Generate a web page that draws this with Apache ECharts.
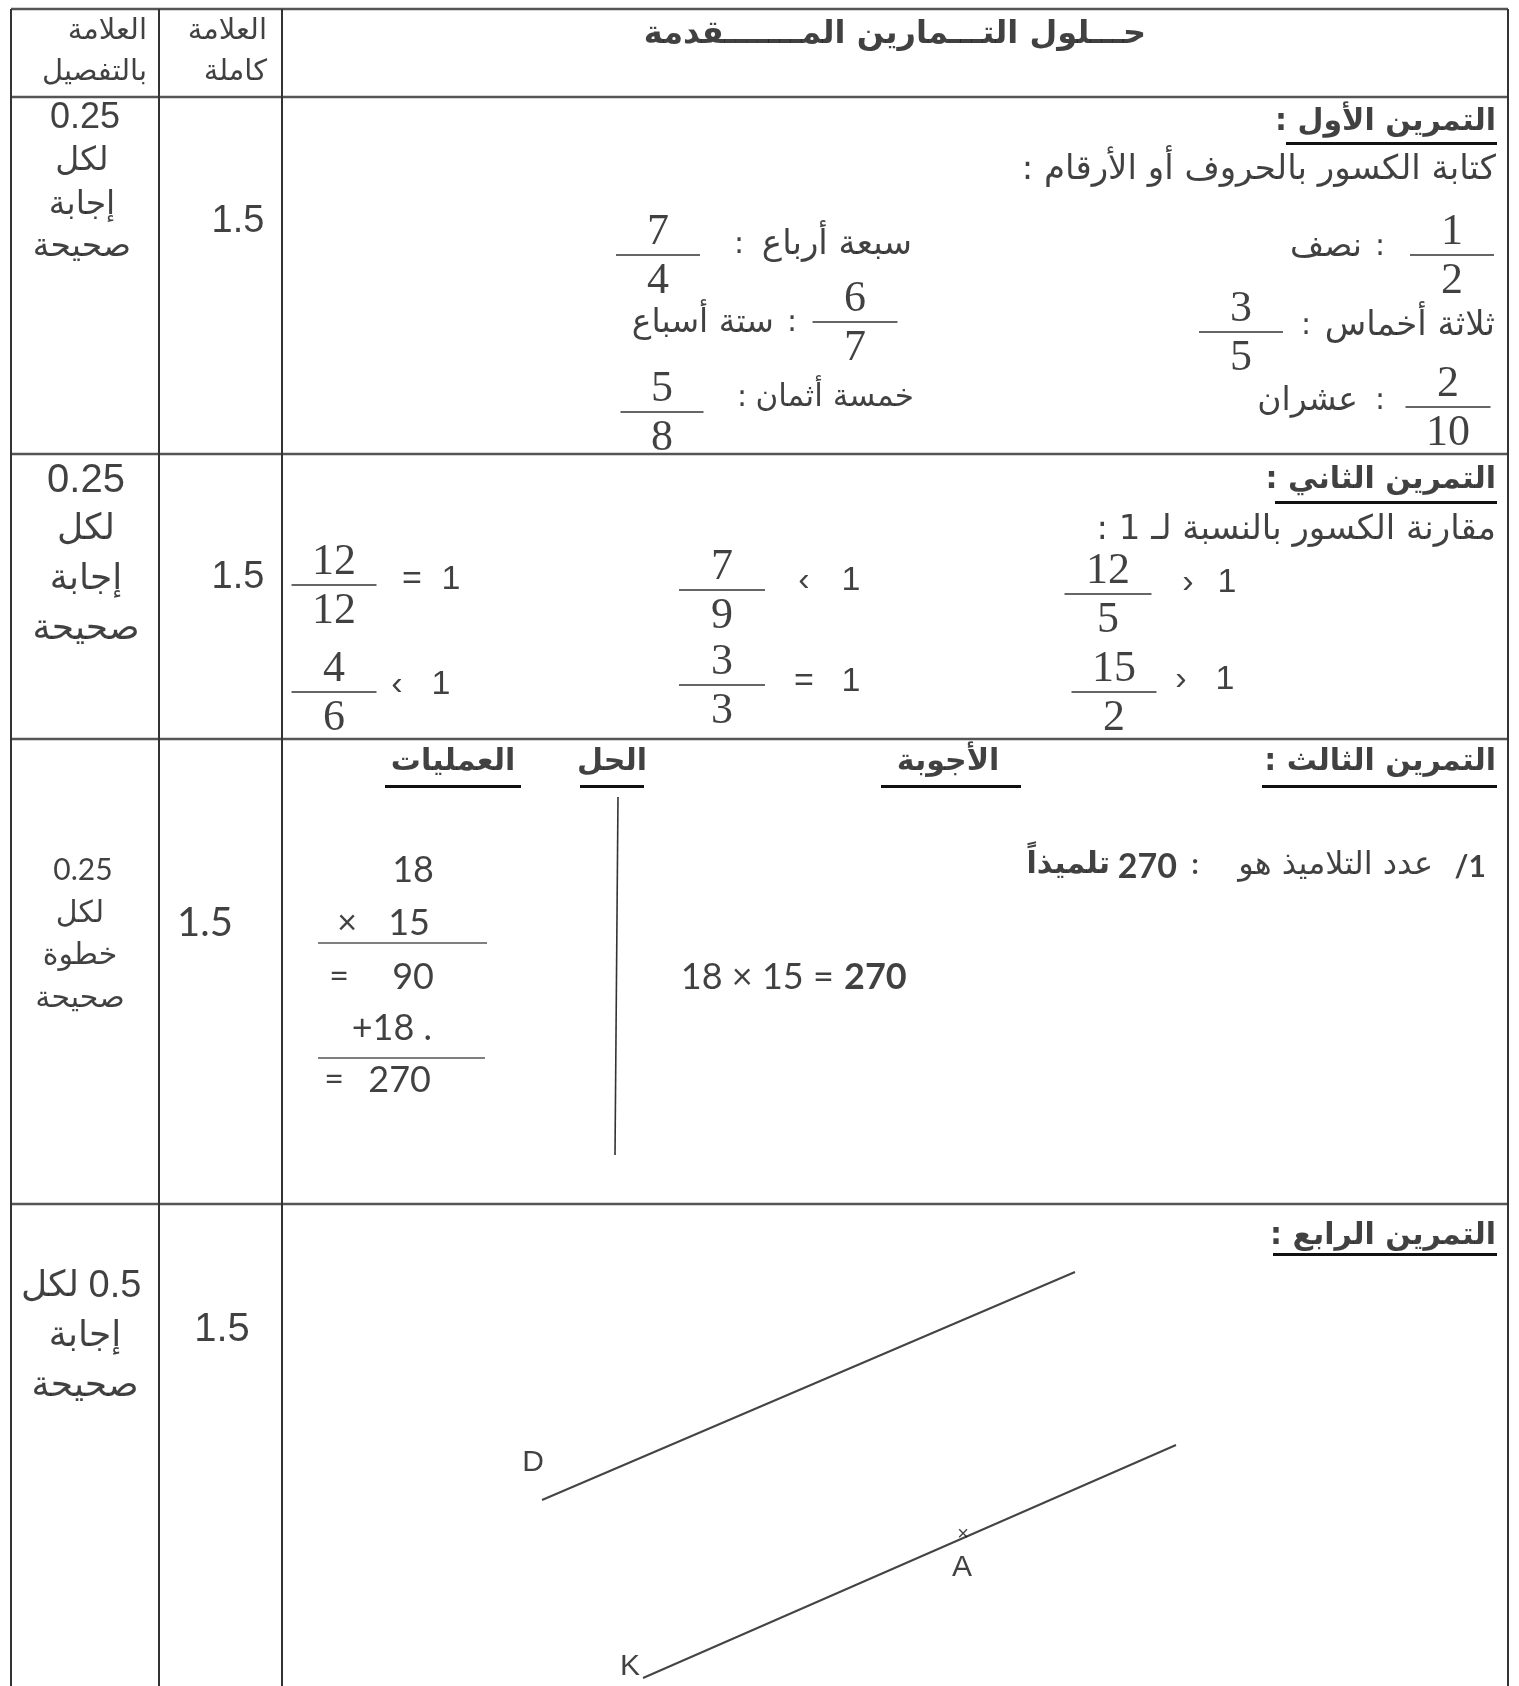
<!DOCTYPE html>
<html>
<head>
<meta charset="utf-8">
<script src="https://cdn.jsdelivr.net/npm/echarts@6/dist/echarts.min.js"></script>
<style>
  html, body { margin: 0; padding: 0; background: #fff; }
  #main { width: 1519px; height: 1686px; }
</style>
</head>
<body>
<div id="main"></div>
<script>
// النصوص والقيم
const titleText = 'حـــلول التـــمارين المـــــــقدمة';
const headDetail = ['العلامة', 'بالتفصيل'];
const headFull = ['العلامة', 'كاملة'];
const fullMarks = ['1.5', '1.5', '1.5', '1.5'];
const detailMarks = [
  ['0.25', 'لكل', 'إجابة', 'صحيحة'],
  ['0.25', 'لكل', 'إجابة', 'صحيحة'],
  ['0.25', 'لكل', 'خطوة', 'صحيحة'],
  ['0.5', 'لكل', 'إجابة', 'صحيحة']
];
const exerciseTitles = ['التمرين الأول :', 'التمرين الثاني :', 'التمرين الثالث :', 'التمرين الرابع :'];

const ex1Prompt = 'كتابة الكسور بالحروف أو الأرقام :';
const ex1Num = [1, 3, 2, 7, 6, 5];
const ex1Den = [2, 5, 10, 4, 7, 8];
const ex1Words = ['نصف', 'ثلاثة أخماس', 'عشران', 'سبعة أرباع', 'ستة أسباع', 'خمسة أثمان'];

const ex2Prompt = 'مقارنة الكسور بالنسبة لـ 1 :';
const ex2Num = [12, 4, 7, 3, 12, 15];
const ex2Den = [12, 6, 9, 3, 5, 2];
const ex2Sign = ['=', '‹', '‹', '=', '›', '›'];
const ex2Ref = '1';

const ex3Heads = ['الأجوبة', 'الحل', 'العمليات'];
const ex3Question = ['/1', 'عدد التلاميذ هو', ':'];
const ex3Answer = ['270', 'تلميذاً'];
const ex3Product = ['18 × 15 = ', '270'];
const ex3Steps = [['', '18'], ['×', '15'], ['=', '90'], ['', '+18 .'], ['=', '270']];

const ex4Points = ['D', 'K', 'A'];

// التخطيط (مواضع بوحدات الصفحة)
const colX = [11, 159, 282, 1508];
const rowY = [9, 97, 454, 739, 1204, 1686];
const AR = 'DejaVu Sans';
const SANS = 'Liberation Sans';
const SERIF = 'Liberation Serif';
const CAL = 'Lato';

const texts = [];
const segs = [];

function txt(x, y, s, size, font, opt) {
  opt = opt || {};
  // علامة RLM حتى تظهر النقطتان في آخر السطر العربي (يسارًا)
  const shown = (font === AR && /:$/.test(s)) ? s + '\u200F' : s;
  texts.push({
    name: shown,
    value: [x, y],
    label: {
      align: opt.align || 'center',
      fontSize: size,
      fontFamily: font,
      fontWeight: opt.bold ? 'bold' : 'normal'
    }
  });
}
function seg(x1, y1, x2, y2, w, c) {
  segs.push({ coords: [[x1, y1], [x2, y2]], lineStyle: { width: w, color: c || '#333', opacity: 1 } });
}
function frac(n, d, cx, bar, w, size) {
  txt(cx, bar - 23, String(n), size, SERIF);
  txt(cx, bar + 26, String(d), size, SERIF);
  seg(cx - w / 2, bar, cx + w / 2, bar, 1.6, '#333');
}

// الجدول
rowY.slice(0, 5).forEach(y => seg(colX[0], y, colX[3], y, 2.4, '#555'));
colX.forEach(x => seg(x, rowY[0], x, rowY[5], 2, '#333'));

// الرأس
txt(147, 31, headDetail[0], 29, AR, { align: 'right' });
txt(147, 72, headDetail[1], 29, AR, { align: 'right' });
txt(267, 31, headFull[0], 29, AR, { align: 'right' });
txt(267, 72, headFull[1], 29, AR, { align: 'right' });
txt(895, 35, titleText, 32, AR, { bold: true });

// عمود العلامة بالتفصيل
const detailLayout = [
  { x: [85, 82, 82, 82], y: [118, 161, 205, 247], size: [36, 33, 33, 33], font: [SANS, AR, AR, AR] },
  { x: [86, 86, 86, 86], y: [481, 530, 580, 630], size: [40, 36, 36, 36], font: [SANS, AR, AR, AR] },
  { x: [83, 80, 80, 80], y: [870, 914, 956, 999], size: [30, 30, 30, 30], font: [CAL, AR, AR, AR] },
  { x: [115, 50, 85, 85], y: [1287, 1287, 1337, 1387], size: [38, 36, 36, 36], font: [SANS, AR, AR, AR] }
];
detailMarks.forEach((lines, r) => {
  const L = detailLayout[r];
  lines.forEach((s, i) => txt(L.x[i], L.y[i], s, L.size[i], L.font[i]));
});

// عمود العلامة كاملة
const fullLayout = [
  { x: 238, y: 222, size: 38, font: SANS },
  { x: 238, y: 578, size: 38, font: SANS },
  { x: 205, y: 923, size: 40, font: CAL },
  { x: 222, y: 1330, size: 40, font: SANS }
];
fullMarks.forEach((s, r) => {
  const L = fullLayout[r];
  txt(L.x, L.y, s, L.size, L.font);
});

// عناوين التمارين مع التسطير
const titleLayout = [
  { y: 122, ul: 143, left: 1286 },
  { y: 480, ul: 502, left: 1275 },
  { y: 762, ul: 786, left: 1262 },
  { y: 1236, ul: 1254, left: 1273 }
];
exerciseTitles.forEach((s, r) => {
  const L = titleLayout[r];
  txt(1496, L.y, s, 30, AR, { align: 'right', bold: true });
  seg(L.left, L.ul, 1497, L.ul, 2.8, '#111');
});

// التمرين الأول
txt(1496, 170, ex1Prompt, 34, AR, { align: 'right' });
const ex1Layout = [
  { cx: 1452, bar: 255, w: 84, colon: 1380, wordR: 1362, wy: 247, size: 33 },
  { cx: 1241, bar: 332, w: 84, colon: 1306, wordR: 1495, wy: 326, size: 34 },
  { cx: 1448, bar: 407, w: 85, colon: 1380, wordR: 1358, wy: 401, size: 33 },
  { cx: 658, bar: 255, w: 84, colon: 739, wordR: 912, wy: 245, size: 34 },
  { cx: 855, bar: 322, w: 85, colon: 792, wordR: 774, wy: 323, size: 33 },
  { cx: 662, bar: 412, w: 83, colon: 742, wordR: 914, wy: 398, size: 31 }
];
ex1Num.forEach((n, i) => {
  const L = ex1Layout[i];
  frac(n, ex1Den[i], L.cx, L.bar, L.w, 44);
  txt(L.colon, L.wy, ':', 30, AR);
  txt(L.wordR, L.wy, ex1Words[i], L.size, AR, { align: 'right' });
});

// التمرين الثاني
txt(1496, 530, ex2Prompt, 34, AR, { align: 'right' });
const ex2Layout = [
  { cx: 334, bar: 585, w: 85, sx: 412, ox: 451, y: 580 },
  { cx: 334, bar: 692, w: 85, sx: 397, ox: 441, y: 685 },
  { cx: 722, bar: 590, w: 86, sx: 804, ox: 851, y: 581 },
  { cx: 722, bar: 685, w: 86, sx: 804, ox: 851, y: 682 },
  { cx: 1108, bar: 594, w: 87, sx: 1188, ox: 1227, y: 583 },
  { cx: 1114, bar: 692, w: 85, sx: 1181, ox: 1225, y: 680 }
];
ex2Num.forEach((n, i) => {
  const L = ex2Layout[i];
  frac(n, ex2Den[i], L.cx, L.bar, L.w, 44);
  txt(L.sx, L.y, ex2Sign[i], 34, SANS);
  txt(L.ox, L.y, ex2Ref, 34, SANS);
});

// التمرين الثالث
const headLayout = [
  { cx: 948, l: 881, r: 1021 },
  { cx: 612, l: 580, r: 644 },
  { cx: 453, l: 385, r: 521 }
];
ex3Heads.forEach((s, i) => {
  const L = headLayout[i];
  txt(L.cx, 762, s, 30, AR, { bold: true });
  seg(L.l, 786, L.r, 786, 2.8, '#111');
});
seg(618, 797, 615, 1155, 1.6, '#333');

txt(1486, 867, ex3Question[0], 30, CAL, { align: 'right', bold: true });
txt(1433, 866, ex3Question[1], 32, AR, { align: 'right' });
txt(1195, 865, ex3Question[2], 28, CAL, { bold: true });
txt(1177, 867, ex3Answer[0], 34, CAL, { align: 'right', bold: true });
txt(1110, 865, ex3Answer[1], 30, AR, { align: 'right', bold: true });

txt(843, 977, ex3Product[0], 36, CAL, { align: 'right' });
txt(844, 977, ex3Product[1], 36, CAL, { align: 'left', bold: true });

const stepLayout = [
  { sx: 0, nr: 434, y: 870 },
  { sx: 347, nr: 430, y: 923 },
  { sx: 339, nr: 434, y: 977 },
  { sx: 0, nr: 432, y: 1028 },
  { sx: 334, nr: 431, y: 1080 }
];
ex3Steps.forEach((st, i) => {
  const L = stepLayout[i];
  if (st[0]) txt(L.sx, L.y, st[0], 34, CAL);
  txt(L.nr, L.y, st[1], 36, CAL, { align: 'right' });
});
seg(318, 943, 487, 943, 1.6, '#555');
seg(318, 1058, 485, 1058, 1.6, '#555');

// التمرين الرابع
seg(542, 1500, 1075, 1272, 2, '#444');
seg(643, 1678, 1176, 1445, 2, '#444');
const pointLayout = [
  { x: 533, y: 1463 },
  { x: 630, y: 1667 },
  { x: 962, y: 1568 }
];
ex4Points.forEach((s, i) => txt(pointLayout[i].x, pointLayout[i].y, s, 30, SANS));
txt(963, 1534, '×', 20, SANS);

const chart = echarts.init(document.getElementById('main'));
chart.setOption({
  animation: false,
  backgroundColor: '#fff',
  grid: { left: 0, right: 0, top: 0, bottom: 0 },
  xAxis: { type: 'value', min: 0, max: 1519, show: false },
  yAxis: { type: 'value', min: 0, max: 1686, inverse: true, show: false },
  series: [
    {
      type: 'lines',
      coordinateSystem: 'cartesian2d',
      silent: true,
      lineStyle: { opacity: 1 },
      data: segs
    },
    {
      type: 'scatter',
      symbolSize: 0,
      silent: true,
      label: {
        show: true,
        position: 'inside',
        verticalAlign: 'middle',
        color: '#111',
        formatter: p => p.name
      },
      data: texts
    }
  ]
});
</script>
</body>
</html>
